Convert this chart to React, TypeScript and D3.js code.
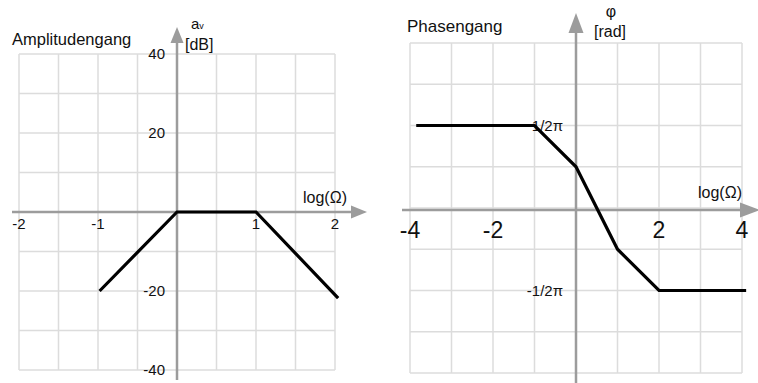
import React from "react";
import * as d3 from "d3";

const PI = Math.PI;

// Amplitude response (Bode asymptotes)
const ampLogOmega = [-0.98, 0, 1, 2.04];
const ampGainDb = [-20, 0, 0, -21.8];
const ampXTicks = [-2, -1, 1, 2];
const ampXTickLabels = ["-2", "-1", "1", "2"];
const ampYTicks = [40, 20, -20, -40];
const ampYTickLabels = ["40", "20", "-20", "-40"];

// Phase response
const phaseLogOmega = [-3.85, -1, 0, 1, 2, 4.1];
const phaseRad = [PI / 2, PI / 2, PI / 4, -PI / 4, -PI / 2, -PI / 2];
const phaseXTicks = [-4, -2, 2, 4];
const phaseXTickLabels = ["-4", "-2", "2", "4"];
const phaseYTicks = [PI / 2, -PI / 2];
const phaseYTickLabels = ["1/2π", "-1/2π"];

const FONT = "'Liberation Sans', Arial, Helvetica, sans-serif";
const GRID = "#dcdcdc";
const AXIS = "#9c9c9c";

type PanelProps = {
  xs: number[];
  ys: number[];
  xDomain: [number, number];
  yDomain: [number, number];
  xRange: [number, number];
  yRange: [number, number];
  xGridStep: number;
  yGridStep: number;
  xTicks: number[];
  xTickLabels: string[];
  yTicks: number[];
  yTickLabels: string[];
  xTickFont: number;
  xTickBaseline: number;
  yTickRight: number;
  yTickFont: number;
  axisTop: number;
  axisBottom: number;
  axisLeft: number;
  axisRight: number;
  headLen: number;
  headHalf: number;
  hAxisY?: number;
};

function Panel(p: PanelProps) {
  const x = d3.scaleLinear().domain(p.xDomain).range(p.xRange);
  const y = d3.scaleLinear().domain(p.yDomain).range(p.yRange);
  const nx = Math.round((p.xDomain[1] - p.xDomain[0]) / p.xGridStep);
  const ny = Math.round((p.yDomain[1] - p.yDomain[0]) / p.yGridStep);
  const gx = d3.range(nx + 1).map((i) => p.xDomain[0] + i * p.xGridStep);
  const gy = d3.range(ny + 1).map((i) => p.yDomain[0] + i * p.yGridStep);
  const x0 = x(0);
  const y0 = p.hAxisY ?? y(0);
  const line = d3
    .line<number>()
    .x((_, i) => x(p.xs[i]))
    .y((_, i) => y(p.ys[i]));

  return (
    <g>
      {gx.map((v, i) => (
        <line key={"gx" + i} x1={x(v)} x2={x(v)} y1={p.yRange[1]} y2={p.yRange[0]} stroke={GRID} strokeWidth={1.5} />
      ))}
      {gy.map((v, i) => (
        <line key={"gy" + i} x1={p.xRange[0]} x2={p.xRange[1]} y1={y(v)} y2={y(v)} stroke={GRID} strokeWidth={1.5} />
      ))}
      {/* axes with arrowheads */}
      <line x1={x0} x2={x0} y1={p.axisBottom} y2={p.axisTop + p.headLen - 1} stroke={AXIS} strokeWidth={2.5} />
      <path
        d={`M${x0},${p.axisTop} L${x0 - p.headHalf},${p.axisTop + p.headLen} L${x0 + p.headHalf},${p.axisTop + p.headLen} Z`}
        fill={AXIS}
      />
      <line x1={p.axisLeft} x2={p.axisRight - p.headLen + 1} y1={y0} y2={y0} stroke={AXIS} strokeWidth={2.5} />
      <path
        d={`M${p.axisRight},${y0} L${p.axisRight - p.headLen},${y0 - p.headHalf} L${p.axisRight - p.headLen},${y0 + p.headHalf} Z`}
        fill={AXIS}
      />
      {p.xTicks.map((v, i) => (
        <text key={"xt" + i} x={x(v)} y={p.xTickBaseline} fontSize={p.xTickFont} textAnchor="middle" fill="#111">
          {p.xTickLabels[i]}
        </text>
      ))}
      {p.yTicks.map((v, i) => (
        <text key={"yt" + i} x={p.yTickRight} y={y(v)} dy="0.36em" fontSize={p.yTickFont} textAnchor="end" fill="#111">
          {p.yTickLabels[i]}
        </text>
      ))}
      <path d={line(p.xs) ?? ""} fill="none" stroke="#000" strokeWidth={3.2} strokeLinejoin="miter" />
    </g>
  );
}

export default function App() {
  return (
    <svg
      width={758}
      height={383}
      style={{ position: "absolute", left: 0, top: 0, background: "#fff" }}
      fontFamily={FONT}
    >
      <rect width={758} height={383} fill="#fff" />
      <Panel
        xs={ampLogOmega}
        ys={ampGainDb}
        xDomain={[-2, 2]}
        yDomain={[-40, 40]}
        xRange={[19, 335]}
        yRange={[370, 54]}
        xGridStep={0.5}
        yGridStep={10}
        xTicks={ampXTicks}
        xTickLabels={ampXTickLabels}
        yTicks={ampYTicks}
        yTickLabels={ampYTickLabels}
        xTickFont={15}
        xTickBaseline={229}
        yTickRight={165}
        yTickFont={15}
        axisTop={27}
        axisBottom={380}
        axisLeft={12}
        axisRight={367}
        headLen={16}
        headHalf={6.5}
      />
      <Panel
        xs={phaseLogOmega}
        ys={phaseRad}
        xDomain={[-4, 4]}
        yDomain={[-PI, PI]}
        xRange={[410, 742]}
        yRange={[373, 43]}
        xGridStep={1}
        yGridStep={PI / 4}
        xTicks={phaseXTicks}
        xTickLabels={phaseXTickLabels}
        yTicks={phaseYTicks}
        yTickLabels={phaseYTickLabels}
        xTickFont={23}
        xTickBaseline={238}
        yTickRight={563}
        yTickFont={15}
        axisTop={13}
        axisBottom={383}
        axisLeft={402}
        axisRight={760}
        headLen={20}
        headHalf={7.5}
        hAxisY={210}
      />
      {/* titles and axis captions */}
      <text x={12} y={45} fontSize={16.5} fill="#111">Amplitudengang</text>
      <text x={191} y={28.5} fontSize={15} fill="#111">a<tspan fontSize={9}>v</tspan></text>
      <text x={185} y={50} fontSize={16} fill="#111">[dB]</text>
      <text x={303} y={203} fontSize={16} fill="#111">log(Ω)</text>

      <text x={407} y={32} fontSize={17} fill="#111">Phasengang</text>
      <text x={611} y={17} fontSize={16} textAnchor="middle" fill="#111">φ</text>
      <text x={594} y={37} fontSize={16} fill="#111">[rad]</text>
      <text x={698} y={198} fontSize={16} fill="#111">log(Ω)</text>
    </svg>
  );
}
